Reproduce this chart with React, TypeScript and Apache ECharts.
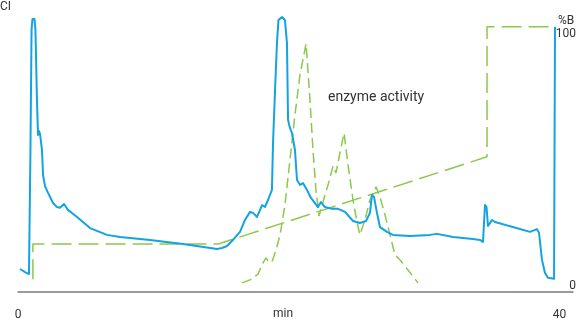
import React, { useEffect, useRef } from "react";
import * as echarts from "echarts";

// Absorbance trace (time in min, signal in arbitrary units)
const uvTime = [0.15, 0.52, 0.81, 0.92, 1.0, 1.07, 1.22, 1.29, 1.4, 1.48, 1.55, 1.63, 1.77, 1.85, 1.99, 2.22, 2.59, 2.88, 3.1, 3.4, 3.69, 4.36, 5.32, 6.58, 7.54, 9.75, 12.19, 14.7, 15.07, 15.44, 15.88, 16.4, 16.77, 17.14, 17.36, 17.66, 18.03, 18.25, 18.47, 18.76, 18.84, 18.99, 19.13, 19.24, 19.5, 19.72, 19.87, 19.95, 20.09, 20.24, 20.46, 20.61, 20.83, 21.05, 21.35, 21.64, 21.94, 22.16, 22.38, 22.68, 23.2, 23.64, 24.16, 24.75, 25.26, 25.71, 26.0, 26.15, 26.3, 26.52, 26.74, 27.26, 27.7, 28.96, 30.44, 30.95, 32.14, 33.61, 34.13, 34.35, 34.5, 34.61, 34.72, 35.02, 35.24, 37.82, 38.34, 38.49, 38.71, 38.93, 39.15, 39.6, 39.67];
const uvSignal = [4.1, 2.9, 2.1, 51.2, 98.7, 103.0, 103.0, 98.7, 71.0, 57.1, 58.7, 57.5, 51.2, 41.3, 37.0, 34.2, 30.2, 28.6, 28.3, 29.8, 27.5, 24.7, 20.3, 17.6, 16.8, 15.6, 14.0, 12.0, 12.4, 13.2, 15.6, 18.8, 23.5, 26.7, 26.3, 24.7, 29.4, 28.7, 31.4, 35.4, 54.0, 75.0, 93.5, 102.6, 103.8, 102.6, 93.5, 63.1, 59.9, 57.9, 51.2, 39.3, 37.4, 38.1, 35.4, 32.2, 30.2, 28.6, 30.6, 28.6, 27.9, 27.9, 26.7, 23.1, 22.3, 23.1, 26.3, 33.4, 32.6, 26.3, 20.7, 18.8, 17.6, 17.2, 17.6, 18.0, 16.8, 16.0, 15.6, 14.8, 29.4, 28.7, 21.1, 23.5, 22.7, 18.8, 19.9, 18.4, 7.7, 2.5, 0.6, 0.2, 100.0];

// Gradient (%B)
const gradTime = [1.1, 1.1, 14.8, 34.65, 34.65, 39.4];
const gradB = [0, 14, 14, 48.5, 100, 100];

// Enzyme activity (arbitrary units)
const enzTime = [16.55, 17.14, 17.73, 18.1, 18.32, 18.54, 18.76, 19.06, 19.36, 19.72, 20.09, 20.46, 20.83, 21.28, 21.57, 21.79, 22.01, 22.24, 22.68, 23.05, 23.27, 23.49, 23.79, 24.09, 24.38, 24.75, 25.04, 25.26, 25.63, 26.0, 26.45, 26.74, 27.11, 27.48, 27.85, 28.22, 28.81, 29.55];
const enzActivity = [-1.4, -0.2, 2.1, 6.5, 8.5, 6.9, 6.9, 11.6, 17.6, 29.4, 47.2, 65.1, 80.9, 93.2, 71.0, 51.2, 35.4, 25.1, 33.4, 40.1, 44.9, 42.1, 50.4, 57.9, 45.3, 31.4, 22.7, 17.6, 23.5, 31.4, 36.6, 32.6, 25.5, 17.6, 9.7, 7.7, 3.7, -1.4];

const xTickLabels = [0, 40];
const bTickLabels = [0, 100];

const FONT = "Roboto, 'Noto Sans', sans-serif";
const BLUE = "#13a3e3";
const GREEN = "#8cc84b";

export default function App() {
  const ref = useRef<HTMLDivElement>(null);
  useEffect(() => {
    if (!ref.current) return;
    const chart = echarts.init(ref.current, null, { renderer: "svg" });
    const zip = (a: number[], b: number[]) => a.map((v, i) => [v, b[i]]);
    chart.setOption({
      animation: false,
      textStyle: { fontFamily: FONT },
      grid: { left: 18, right: 7, top: 14, bottom: 28, outerBoundsMode: "none", containLabel: false },
      xAxis: {
        type: "value",
        min: 0,
        max: 41,
        interval: 40,
        name: "min",
        nameLocation: "middle",
        nameGap: 15,
        nameMoveOverlap: false,
        nameTextStyle: { fontSize: 12, color: "#333", padding: [0, 25, 0, 0] },
        axisLine: { show: true, onZero: false, lineStyle: { color: "#7a7a7a", width: 1.5 } },
        axisTick: { show: false },
        splitLine: { show: false },
        axisLabel: {
          interval: 0,
          margin: 16,
          fontSize: 12,
          color: "#333",
          formatter: (v: number) => (xTickLabels.includes(v) ? String(v) : ""),
        },
      },
      yAxis: [
        { type: "value", min: -5, max: 105, show: false },
        {
          type: "value",
          position: "right",
          min: -5,
          max: 105,
          interval: 5,
          axisLine: { show: false },
          axisTick: { show: false },
          splitLine: { show: false },
          axisLabel: {
            align: "right",
            verticalAlign: "top",
            margin: 3,
            fontSize: 12,
            color: "#333",
            formatter: (v: number) => (bTickLabels.includes(v) ? String(v) : ""),
          },
        },
      ],
      graphic: [
        { type: "text", left: 0, top: 0, style: { text: "CI", fontSize: 12, fill: "#333", fontFamily: FONT } },
        { type: "text", left: 558, top: 14, style: { text: "%B", fontSize: 12, fill: "#333", fontFamily: FONT } },
        { type: "text", left: 328, top: 89, style: { text: "enzyme activity", fontSize: 14, fill: "#333", fontFamily: FONT } },
      ],
      series: [
        {
          type: "line",
          name: "gradient",
          yAxisIndex: 1,
          data: zip(gradTime, gradB),
          showSymbol: false,
          clip: false,
          lineStyle: { color: GREEN, width: 1.5, type: [20, 7] },
          z: 1,
        },
        {
          type: "line",
          name: "enzyme activity",
          yAxisIndex: 0,
          data: zip(enzTime, enzActivity),
          showSymbol: false,
          clip: false,
          lineStyle: { color: GREEN, width: 1.5, type: [10, 5] },
          z: 1,
        },
        {
          type: "line",
          name: "UV",
          yAxisIndex: 0,
          data: zip(uvTime, uvSignal),
          showSymbol: false,
          clip: false,
          lineStyle: { color: BLUE, width: 2, join: "round" },
          z: 2,
        },
      ],
    });
    return () => chart.dispose();
  }, []);
  return <div ref={ref} style={{ position: "fixed", left: 0, top: 0, width: 580, height: 320 }} />;
}
